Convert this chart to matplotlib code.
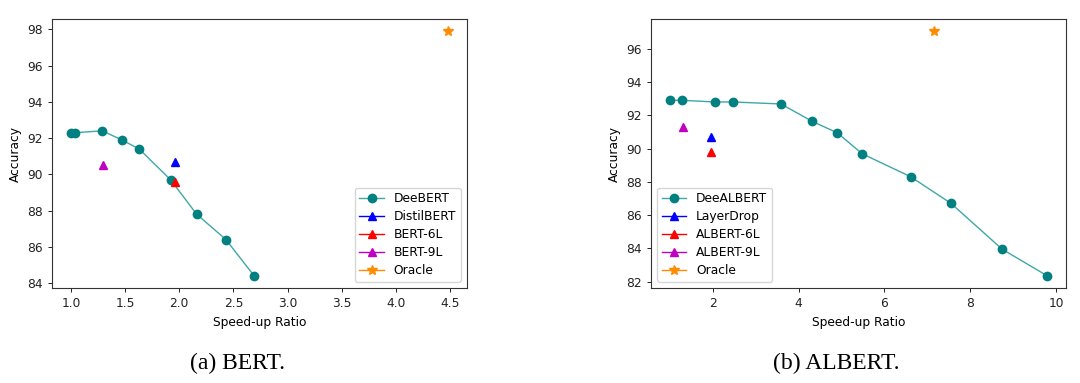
import matplotlib
matplotlib.use("Agg")
import matplotlib.pyplot as plt

# BERT panel
deebert_x = [1.0, 1.04, 1.29, 1.47, 1.63, 1.92, 2.16, 2.43, 2.69]
deebert_y = [92.3, 92.3, 92.4, 91.9, 91.4, 89.7, 87.8, 86.4, 84.4]
distilbert = (1.96, 90.7)
bert6l = (1.96, 89.6)
bert9l = (1.30, 90.5)
oracle_bert = (4.48, 97.9)

# ALBERT panel
deealbert_x = [1.0, 1.29, 2.05, 2.47, 3.59, 4.32, 4.90, 5.48, 6.61, 7.55, 8.74, 9.79]
deealbert_y = [92.9, 92.9, 92.8, 92.8, 92.68, 91.63, 90.95, 89.69, 88.31, 86.71, 83.96, 82.36]
layerdrop = (1.96, 90.7)
albert6l = (1.96, 89.8)
albert9l = (1.31, 91.3)
oracle_albert = (7.16, 97.05)

captions = ["(a) BERT.", "(b) ALBERT."]

W, H = 1080, 383
fig = plt.figure(figsize=(W / 100, H / 100), dpi=100)
fs = 8.8
plt.rcParams['font.size'] = fs

ax1 = fig.add_axes([52 / W, 1 - 288 / H, 415 / W, 269 / H])
ax2 = fig.add_axes([651 / W, 1 - 288 / H, 415 / W, 269 / H])

line_col = '#3fa7a7'
teal = '#008080'


def panel(ax, xs, ys, name, b, r, m, o, labels, loc):
    ax.plot(xs, ys, '-o', color=line_col, mfc=teal, mec=teal, lw=1, ms=6, label=name)
    ax.plot([b[0]], [b[1]], '^', color='blue', ms=6, lw=1, label=labels[0], linestyle='-')
    ax.plot([r[0]], [r[1]], '^', color='red', ms=6, lw=1, label=labels[1], linestyle='-')
    ax.plot([m[0]], [m[1]], '^', color='m', ms=6, lw=1, label=labels[2], linestyle='-')
    ax.plot([o[0]], [o[1]], '*', color='darkorange', ms=7, lw=1, label=labels[3], linestyle='-')
    ax.set_xlabel('Speed-up Ratio', fontsize=fs)
    ax.set_ylabel('Accuracy', fontsize=fs)
    ax.tick_params(labelsize=fs, length=3, width=0.7, colors='#222222')
    for s in ax.spines.values():
        s.set_linewidth(0.8)
        s.set_color('#333333')
    ax.legend(loc=loc, fontsize=fs, handlelength=2.0, borderpad=0.4, labelspacing=0.4)


panel(ax1, deebert_x, deebert_y, 'DeeBERT', distilbert, bert6l, bert9l, oracle_bert,
      ['DistilBERT', 'BERT-6L', 'BERT-9L', 'Oracle'], 'lower right')
panel(ax2, deealbert_x, deealbert_y, 'DeeALBERT', layerdrop, albert6l, albert9l, oracle_albert,
      ['LayerDrop', 'ALBERT-6L', 'ALBERT-9L', 'Oracle'], 'lower left')
ax2.set_xticks([2, 4, 6, 8, 10])
ax2.set_yticks([82, 84, 86, 88, 90, 92, 94, 96])

fig.text(238 / W, 1 - 363 / H, captions[0], ha='center', va='center',
         fontsize=17, family='Liberation Serif')
fig.text(836 / W, 1 - 363 / H, captions[1], ha='center', va='center',
         fontsize=17, family='Liberation Serif')

fig.savefig('out.png', dpi=100)
